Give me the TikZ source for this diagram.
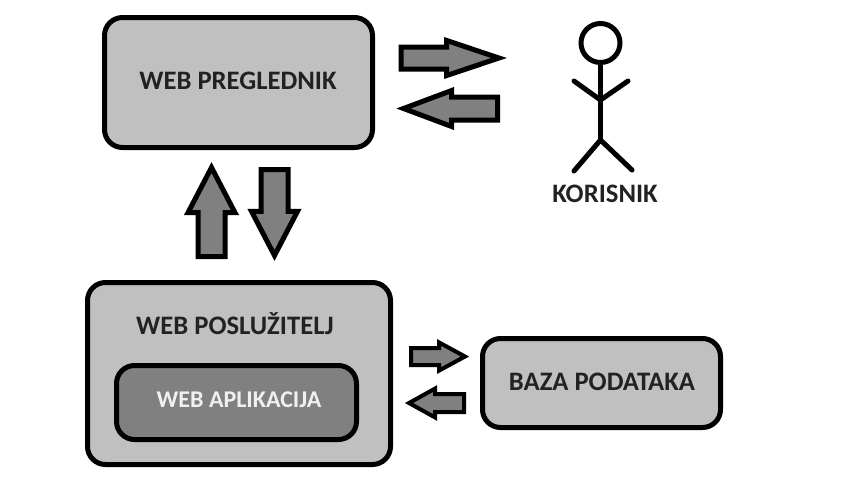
\documentclass[tikz,border=0pt]{standalone}
\usepackage{fontspec}
\setmainfont{Carlito}
\usetikzlibrary{shapes.arrows}
\definecolor{box_gray}{RGB}{192,192,192}
\definecolor{app_gray}{RGB}{128,128,128}
\definecolor{text_dark}{RGB}{34,34,34}
\definecolor{text_light}{RGB}{240,240,240}
\def\px{0.75pt}
\tikzset{
  flow/.style n args={4}{draw=black,fill=app_gray,line width=#4*\px,single arrow,anchor=tail,
    inner xsep=0pt,inner ysep=#2*\px,outer sep=0pt,minimum width=1pt,minimum height=#1*\px,
    single arrow head extend=#3*\px},
}
\begin{document}
\begin{tikzpicture}[x=\px,y=-\px]
    \tikzstyle{label}=[text=text_dark,font=\bfseries\fontsize{20}{22}\selectfont]
    \tikzstyle{block}=[draw=black,fill=box_gray,line width=5*\px,rectangle,rounded corners=18*\px]
    \tikzstyle{limb}=[draw=black,line width=5*\px,line cap=round,line join=round]

    \useasboundingbox (0,0) rectangle (860,494);

    \node[block,minimum width=268*\px,minimum height=130*\px] (preglednik) at (238.5,82.5) {};
    \node[block,minimum width=303*\px,minimum height=182*\px] (posluzitelj) at (239,373.5) {};
    \node[block,fill=app_gray,minimum width=240*\px,minimum height=74*\px] (aplikacija) at (236.5,402.5) {};
    \node[block,minimum width=238*\px,minimum height=89*\px] (baza) at (601.5,383) {};

    \node[label] (pregledniktxt) at (238,81) {WEB PREGLEDNIK};
    \node[label] (posluziteljtxt) at (235,324) {WEB POSLUŽITELJ};
    \node[label,text=text_light,font=\bfseries\fontsize{18}{20}\selectfont] (aplikacijatxt) at (239,400) {WEB APLIKACIJA};
    \node[label] (bazatxt) at (602,382) {BAZA PODATAKA};
    \node[label] (korisniktxt) at (605,194) {KORISNIK};

    % strelice
    \node[flow={98}{8.5}{6.5}{5},single arrow tip angle=37] (A) at (401,58) {};
    \node[flow={94}{9}{6.5}{5},single arrow tip angle=41,rotate=180] (B) at (497.5,108.5) {};
    \node[flow={89}{11}{10}{5},single arrow tip angle=55,rotate=90] (C) at (211.5,256.5) {};
    \node[flow={86}{11}{9.5}{5},single arrow tip angle=55,rotate=-90] (D) at (274.5,169.5) {};
    \node[flow={54}{6.5}{5.5}{4},single arrow tip angle=57,rotate=0] (E) at (411,356.5) {};
    \node[flow={55}{7}{5.5}{4},single arrow tip angle=58,rotate=180] (F) at (464,403) {};

    % korisnik
    \node[draw=black,fill=none,line width=5*\px,circle,inner sep=0pt,minimum size=39*\px] (glava) at (600.5,43) {};
    \coordinate (rame) at (600.5,100);
    \coordinate (kuk) at (600.5,140);
    \coordinate (ruka1) at (574,81);
    \coordinate (ruka2) at (628,81);
    \coordinate (noga1) at (574,171);
    \coordinate (noga2) at (632,170);
    \draw[limb] (glava.south) -- (kuk);
    \draw[limb] (ruka1) -- (rame) -- (ruka2);
    \draw[limb] (noga1) -- (kuk) -- (noga2);
\end{tikzpicture}
\end{document}
